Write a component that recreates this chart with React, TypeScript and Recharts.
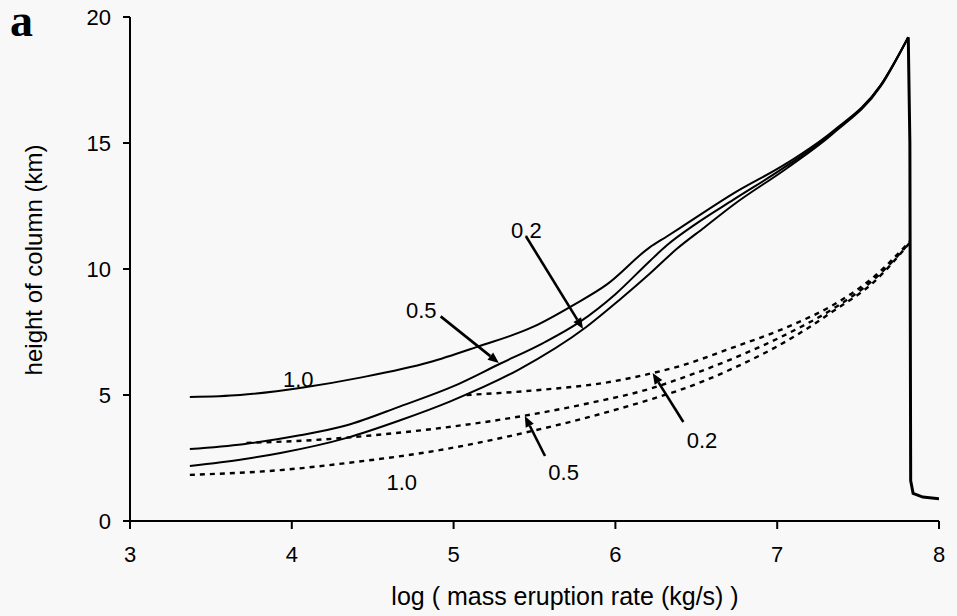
import React from 'react';
import { LineChart, Line, XAxis, YAxis, ReferenceLine, ReferenceDot } from 'recharts';

const xTicks = [3, 4, 5, 6, 7, 8];
const yTicks = [0, 5, 10, 15, 20];

// solid curves (height of column, km) vs log mass eruption rate
const solid10X = [3.37, 3.68, 4.07, 4.44, 4.85, 5.14, 5.49, 5.74, 5.95, 6.21, 6.32, 6.44, 6.73, 7.06, 7.34, 7.64, 7.81];
const solid10Y = [4.92, 5.0, 5.3, 5.71, 6.3, 6.9, 7.7, 8.57, 9.4, 10.85, 11.3, 11.8, 13.0, 14.2, 15.45, 17.3, 19.2];

const solid05X = [3.37, 3.7, 4.05, 4.34, 4.67, 5.0, 5.29, 5.55, 5.78, 6.0, 6.21, 6.32, 6.5, 6.73, 7.06, 7.34, 7.64, 7.81];
const solid05Y = [2.86, 3.05, 3.4, 3.8, 4.55, 5.35, 6.25, 7.05, 7.9, 9.0, 10.3, 10.95, 11.8, 12.75, 14.1, 15.4, 17.3, 19.2];

const solid02X = [3.37, 3.7, 3.93, 4.34, 4.67, 4.98, 5.4, 5.82, 6.03, 6.21, 6.38, 6.55, 6.73, 7.06, 7.34, 7.64, 7.81];
const solid02Y = [2.18, 2.45, 2.7, 3.3, 4.0, 4.75, 6.0, 7.7, 8.8, 9.8, 10.8, 11.65, 12.55, 14.0, 15.35, 17.25, 19.2];

// dashed curves
const dash02X = [5.08, 5.53, 5.95, 6.23, 6.4, 6.69, 7.1, 7.34, 7.6, 7.82];
const dash02Y = [5.0, 5.2, 5.5, 5.87, 6.15, 6.8, 7.8, 8.55, 9.7, 11.1];

const dash05X = [3.72, 4.13, 4.5, 4.92, 5.43, 5.84, 6.23, 6.4, 6.69, 7.1, 7.34, 7.6, 7.82];
const dash05Y = [3.1, 3.21, 3.4, 3.69, 4.17, 4.68, 5.28, 5.65, 6.35, 7.55, 8.4, 9.6, 11.05];

const dash10X = [3.37, 3.93, 4.34, 4.92, 5.43, 5.84, 6.23, 6.4, 6.69, 7.1, 7.34, 7.6, 7.82];
const dash10Y = [1.83, 2.02, 2.3, 2.82, 3.49, 4.13, 4.85, 5.2, 5.95, 7.3, 8.3, 9.5, 11.05];

// collapse line
const dropX = [7.81, 7.82, 7.825, 7.84, 7.9, 8.0];
const dropY = [19.2, 15.0, 1.6, 1.1, 0.95, 0.88];

// annotations
const labelText = ['1.0', '0.5', '0.2', '0.2', '0.5', '1.0'];
const labelX = [4.04, 4.8, 5.45, 6.535, 5.68, 4.68];
const labelY = [5.32, 8.06, 11.23, 2.9, 1.63, 1.23];

const arrowFromX = [4.92, 5.45, 6.42, 5.565];
const arrowFromY = [8.12, 11.27, 3.93, 2.58];
const arrowToX = [5.28, 5.8, 6.23, 5.44];
const arrowToY = [6.27, 7.62, 5.87, 4.17];

const toPts = (xs: number[], ys: number[]) => xs.map((x, i) => ({ x, y: ys[i] }));

const FONT = '"Liberation Sans", Arial, Helvetica, sans-serif';

const ArrowShape = (p: any) => {
  const { x1, y1, x2, y2 } = p;
  const a = Math.atan2(y2 - y1, x2 - x1);
  const L = 11;
  const W = 4.5;
  const bx = x2 - L * Math.cos(a);
  const by = y2 - L * Math.sin(a);
  const pts = `${x2},${y2} ${bx - W * Math.sin(a)},${by + W * Math.cos(a)} ${bx + W * Math.sin(a)},${by - W * Math.cos(a)}`;
  return (
    <g>
      <line x1={x1} y1={y1} x2={bx} y2={by} stroke="#000" strokeWidth={2.6} />
      <polygon points={pts} fill="#000" />
    </g>
  );
};

const makeLabelShape = (txt: string) => (p: any) => (
  <text x={p.cx} y={p.cy} textAnchor="middle" fontFamily={FONT} fontSize={22} fill="#000">
    {txt}
  </text>
);

export default function App() {
  return (
    <div style={{ position: 'absolute', left: 0, top: 0, width: 957, height: 616, background: '#f8f8f8' }}>
      <svg width={70} height={60} style={{ position: 'absolute', left: 0, top: 0 }}>
        <text x={10} y={36} fontFamily={'"Liberation Serif", "Times New Roman", serif'} fontWeight="bold" fontSize={46} fill="#000">
          a
        </text>
      </svg>
      <LineChart width={957} height={616} margin={{ top: 17, right: 18, left: 0, bottom: 0 }}>
        <XAxis
          type="number"
          dataKey="x"
          domain={[3, 8]}
          ticks={xTicks}
          allowDataOverflow
          height={95}
          stroke="#000"
          axisLine={{ stroke: '#000', strokeWidth: 2 }}
          tickLine={{ stroke: '#000', strokeWidth: 2 }}
          tickSize={8}
          tickMargin={17}
          tick={{ fill: '#000', fontSize: 22, fontFamily: FONT }}
          label={{
            content: (props: any) => {
              const vb = props.viewBox || { x: 130, y: 521, width: 809, height: 95 };
              return (
                <text x={vb.x + 435} y={vb.y + 84} textAnchor="middle" fontFamily={FONT} fontSize={25} fill="#000">
                  log ( mass eruption rate (kg/s) )
                </text>
              );
            },
          }}
        />
        <YAxis
          type="number"
          dataKey="y"
          domain={[0, 20]}
          ticks={yTicks}
          allowDataOverflow
          width={130}
          stroke="#000"
          axisLine={{ stroke: '#000', strokeWidth: 2 }}
          tickLine={{ stroke: '#000', strokeWidth: 2 }}
          tickSize={7}
          tickMargin={12}
          tick={{ fill: '#000', fontSize: 22, fontFamily: FONT }}
          label={{
            content: () => {
              const x = 42;
              const y = 260;
              return (
                <text x={x} y={y} transform={`rotate(-90 ${x} ${y})`} textAnchor="middle" fontFamily={FONT} fontSize={24} fill="#000">
                  height of column (km)
                </text>
              );
            },
          }}
        />
        <Line data={toPts(solid10X, solid10Y)} dataKey="y" type="monotone" stroke="#000" strokeWidth={2} dot={false} isAnimationActive={false} />
        <Line data={toPts(solid05X, solid05Y)} dataKey="y" type="monotone" stroke="#000" strokeWidth={2} dot={false} isAnimationActive={false} />
        <Line data={toPts(solid02X, solid02Y)} dataKey="y" type="monotone" stroke="#000" strokeWidth={2} dot={false} isAnimationActive={false} />
        <Line data={toPts(dash02X, dash02Y)} dataKey="y" type="monotone" stroke="#000" strokeWidth={2.4} strokeDasharray="5 5" dot={false} isAnimationActive={false} />
        <Line data={toPts(dash05X, dash05Y)} dataKey="y" type="monotone" stroke="#000" strokeWidth={2.4} strokeDasharray="5 5" dot={false} isAnimationActive={false} />
        <Line data={toPts(dash10X, dash10Y)} dataKey="y" type="monotone" stroke="#000" strokeWidth={2.4} strokeDasharray="5 5" dot={false} isAnimationActive={false} />
        <Line data={toPts(dropX, dropY)} dataKey="y" type="linear" stroke="#000" strokeWidth={3} dot={false} isAnimationActive={false} />
        {arrowFromX.map((fx, i) => (
          <ReferenceLine
            key={'ar' + i}
            segment={[{ x: fx, y: arrowFromY[i] }, { x: arrowToX[i], y: arrowToY[i] }]}
            shape={ArrowShape}
            ifOverflow="visible"
          />
        ))}
        {labelText.map((t, i) => (
          <ReferenceDot key={'lb' + i} x={labelX[i]} y={labelY[i]} r={0} shape={makeLabelShape(t)} ifOverflow="visible" />
        ))}
      </LineChart>
    </div>
  );
}
